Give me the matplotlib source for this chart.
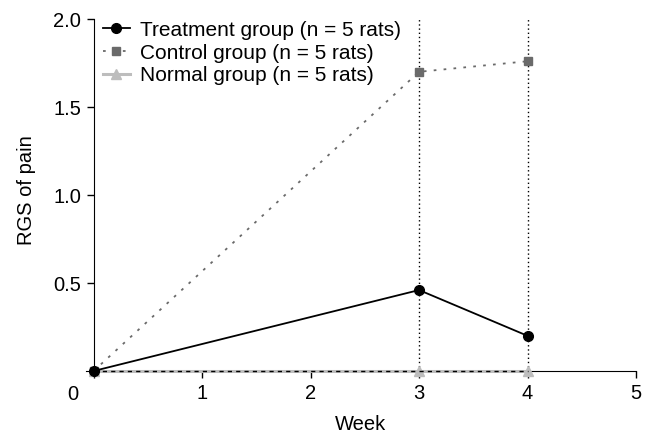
import matplotlib
matplotlib.use("Agg")
import matplotlib.pyplot as plt

plt.rcParams["font.family"] = ["Liberation Sans", "DejaVu Sans"]

weeks = [0, 3, 4]
treatment = [0.0, 0.46, 0.20]
control = [0.0, 1.70, 1.76]
normal = [0.0, 0.0, 0.0]
x_ticks = [0, 1, 2, 3, 4, 5]
x_labels = ["", "1", "2", "3", "4", "5"]
y_ticks = [0.5, 1.0, 1.5, 2.0]
y_labels = ["0.5", "1.0", "1.5", "2.0"]
marked_weeks = [3, 4]

fig = plt.figure(figsize=(6.54, 4.37), dpi=100)
ax = fig.add_axes([0.1315, 0.151, 0.841, 0.8055])
fs = 14.5

ax.vlines(marked_weeks, 0, 2.0, colors="black", linestyles=(0, (1, 2)), linewidth=1.0, zorder=1)
ax.plot(weeks, normal, color="#bdbdbd", linestyle="-", linewidth=2.2, marker="^",
        markersize=7.5, markerfacecolor="#bdbdbd", markeredgecolor="#bdbdbd",
        label="Normal group (n = 5 rats)", clip_on=False, zorder=4)
ax.plot(weeks, normal, color="black", linestyle=(0, (3, 3)), linewidth=1.0, clip_on=False, zorder=4.5)
ax.plot(weeks, control, color="#6a6a6a", linestyle=(0, (1.5, 4)), linewidth=1.3, marker="s",
        markersize=6.3, label="Control group (n = 5 rats)", clip_on=False, zorder=3)
ax.plot(weeks, treatment, color="black", linestyle="-", linewidth=1.3, marker="o",
        markersize=7, label="Treatment group (n = 5 rats)", clip_on=False, zorder=5)

ax.set_xlim(-0.07, 5)
ax.set_ylim(0, 2.0)
ax.spines["top"].set_visible(False)
ax.spines["right"].set_visible(False)
ax.spines["left"].set_position(("data", 0))
ax.spines["left"].set_bounds(0, 2.0)
ax.set_xticks(x_ticks)
ax.set_xticklabels(x_labels, fontsize=fs)
ax.set_yticks(y_ticks)
ax.set_yticklabels(y_labels, fontsize=fs)
ax.tick_params(direction="out", length=5, width=1, color="black", pad=4)
ax.annotate("0", xy=(0, 0), xycoords="data", xytext=(-21, -23), textcoords="offset pixels",
            ha="center", va="center", fontsize=fs)

ax.set_xlabel("Week", fontsize=fs, labelpad=9)
fig.text(26 / 654, 1 - 190 / 437, "RGS of pain", rotation=90, ha="center", va="center", fontsize=fs)

handles, labels = ax.get_legend_handles_labels()
order = [2, 1, 0]
ax.legend([handles[i] for i in order], [labels[i] for i in order], loc="upper left",
          bbox_to_anchor=(0.03, 0.995), frameon=False, fontsize=15, handlelength=1.3,
          handletextpad=0.5, labelspacing=0.18, borderaxespad=0.0, borderpad=0.0)

fig.savefig("out.png", dpi=100)
